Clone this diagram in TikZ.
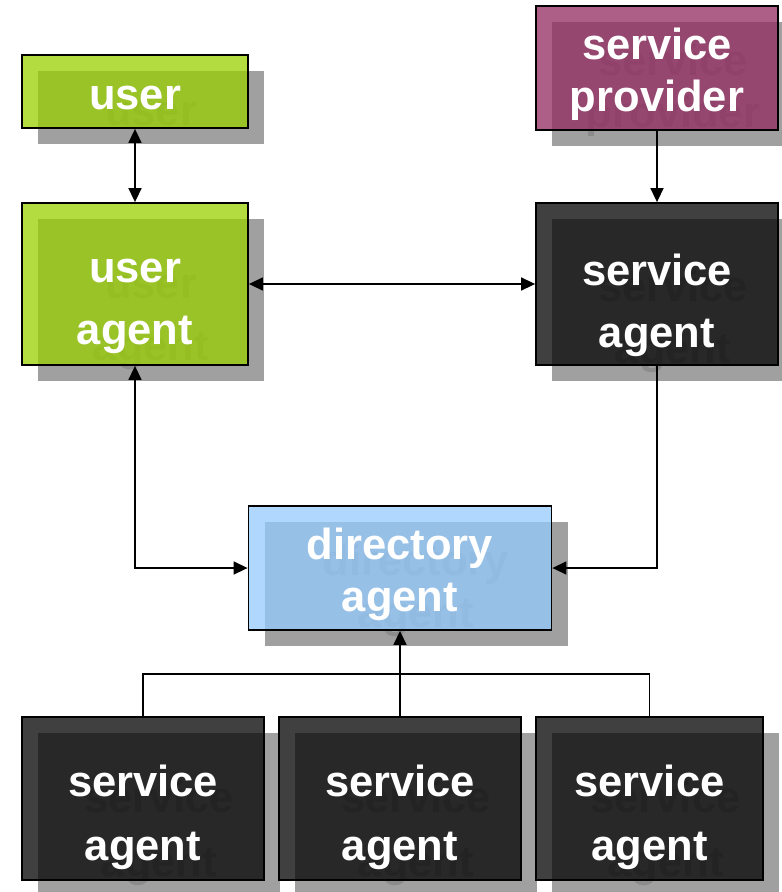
\documentclass[tikz,border=0pt]{standalone}
\usepackage{fontspec}
\setmainfont{Liberation Sans}
\usetikzlibrary{arrows.meta}

\definecolor{shade}{HTML}{A0A0A0}
\definecolor{ghost}{HTML}{8C8C8C}
\definecolor{usergreen}{RGB}{153,208,0}
\definecolor{provpurple}{RGB}{147,42,95}
\definecolor{dirblue}{RGB}{149,203,255}
\definecolor{agentdark}{RGB}{0,0,0}

\tikzset{
  x=1pt, y=-1pt,
  boxfont/.style={font=\bfseries\fontsize{43.5}{#1}\selectfont},
  box/.style={draw=black, line width=1.8pt, fill opacity=0.75, inner sep=0pt},
  shadowbox/.style={fill=shade, inner sep=0pt},
  label/.style={text=white, align=center, inner sep=0pt},
  ghostlabel/.style={text=ghost, align=center, inner sep=0pt},
  link/.style={line width=1.5pt},
  tip/.tip={Triangle[length=14pt,width=13pt]},
  both/.style={link, tip-tip},
  one/.style={link, -tip},
}

% \putshadow{name}{cx}{cy}{width}{height}{baselineskip}{text drop}{text}
\newcommand\putshadow[8]{%
  \node[shadowbox, minimum width=#4pt, minimum height=#5pt]
    (#1-sh) at ({#2+16},{#3+16}) {};
  \node[ghostlabel, boxfont=#6] (#1-gt) at ([yshift=-#7pt]#1-sh.center) {#8};}
% \putbox{name}{cx}{cy}{width}{height}{baselineskip}{text drop}{colour}{text}
\newcommand\putbox[9]{%
  \node[box, fill=#8, minimum width=#4pt, minimum height=#5pt]
    (#1) at (#2,#3) {};
  \node[label, boxfont=#6] (#1-t) at ([yshift=-#7pt]#1.center) {#9};}

\begin{document}
\begin{tikzpicture}
\useasboundingbox (0,0) rectangle (782,892);
\clip (0,0) rectangle (782,892);

% drop shadows with their faint text
\putshadow{user}{135}{91.5}{226}{73}{62}{6}{user}
\putshadow{ua}{135}{284}{226}{162}{62}{22}{user\\agent}
\putshadow{sp}{657}{68}{242}{124}{52}{6}{service\\provider}
\putshadow{sa}{657}{284}{242}{162}{62}{21}{service\\agent}
\putshadow{da}{400}{568}{303}{124}{52}{6}{directory\\agent}
\putshadow{b1}{143}{798.5}{242}{163}{64}{19}{service\\agent}
\putshadow{b2}{400}{798.5}{242}{163}{64}{19}{service\\agent}
\putshadow{b3}{649.5}{798.5}{227}{163}{64}{19}{service\\agent}

% boxes
\putbox{user}{135}{91.5}{226}{73}{62}{6}{usergreen}{user}
\putbox{ua}{135}{284}{226}{162}{62}{22}{usergreen}{user\\agent}
\putbox{sp}{657}{68}{242}{124}{52}{6}{provpurple}{service\\provider}
\putbox{sa}{657}{284}{242}{162}{62}{21}{agentdark}{service\\agent}
\putbox{da}{400}{568}{303}{124}{52}{6}{dirblue}{directory\\agent}
\putbox{b1}{143}{798.5}{242}{163}{64}{19}{agentdark}{service\\agent}
\putbox{b2}{400}{798.5}{242}{163}{64}{19}{agentdark}{service\\agent}
\putbox{b3}{649.5}{798.5}{227}{163}{64}{19}{agentdark}{service\\agent}

% connectors
\draw[both] (user.south) -- (ua.north);
\draw[one] (sp.south) -- (sa.north);
\draw[both] (ua.east) -- (sa.west);
\draw[both] (ua.south) |- (da.west);
\draw[one] (sa.south) |- (da.east);
\coordinate (bus) at (400,674);
\draw[link] (b1.north) |- (bus) -| (b3.north);
\draw[one] (b2.north) -- (da.south);
\end{tikzpicture}
\end{document}
